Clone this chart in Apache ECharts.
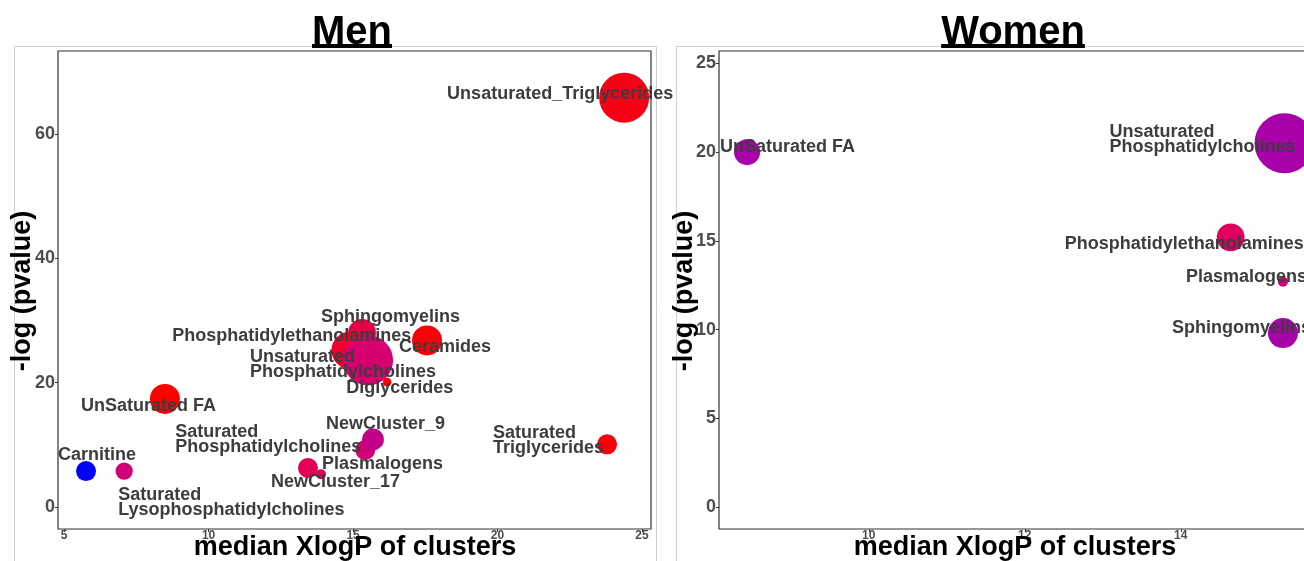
<!DOCTYPE html>
<html>
<head>
<meta charset="utf-8">
<script src="https://cdn.jsdelivr.net/npm/echarts@6/dist/echarts.min.js"></script>
<style>
  html, body { margin: 0; padding: 0; background: #ffffff; }
  #chart { width: 1304px; height: 561px; }
</style>
</head>
<body>
<div id="chart"></div>
<script>
const FONT = '"Liberation Sans", Arial, Helvetica, sans-serif';

// ---- Men: lipid clusters ----
const menClusters = [
  'Unsaturated_Triglycerides', 'Ceramides', 'Sphingomyelins', 'Phosphatidylethanolamines',
  'Unsaturated\nPhosphatidylcholines', 'Diglycerides', 'UnSaturated FA', 'Carnitine',
  'Saturated\nLysophosphatidylcholines', 'NewCluster_17', 'Plasmalogens',
  'Saturated\nPhosphatidylcholines', 'NewCluster_9', 'Saturated\nTriglycerides'
];
const menXlogP   = [24.38, 17.56, 15.31, 14.90, 15.52, 16.18, 8.49, 5.76, 7.08, 13.44, 13.89, 15.42, 15.69, 23.79];
const menNegLogP = [65.8, 26.8, 28.0, 25.2, 23.6, 20.1, 17.4, 5.8, 5.8, 6.3, 5.3, 9.2, 10.9, 10.1];
const menMembers = [100, 36, 31, 56, 100, 3, 36, 16, 12, 16, 4, 16, 19, 16];
const menEffect  = [0.95, 0.98, 0.84, 0.90, 0.745, 1.0, 1.0, 0.0, 0.72, 0.81, 0.80, 0.717, 0.636, 0.98];

// ---- Women: lipid clusters ----
const womenClusters = [
  'UnSaturated FA', 'Unsaturated\nPhosphatidylcholines', 'Phosphatidylethanolamines',
  'Plasmalogens', 'Sphingomyelins'
];
const womenXlogP   = [8.44, 15.33, 14.64, 15.31, 15.31];
const womenNegLogP = [20.0, 20.5, 15.2, 12.7, 9.8];
const womenMembers = [27, 144, 31, 4, 36];
const womenEffect  = [0.5, 0.5, 0.78, 0.72, 0.5];

// ---- tick values ----
const menXTicks = [5, 10, 15, 20, 25];
const menYTicks = [0, 20, 40, 60];
const womenXTicks = [10, 12, 14];
const womenYTicks = [0, 5, 10, 15, 20, 25];

// label placement: left edge / vertical middle of each label, in px from the point centre
const menLabelNudge = {
  'Unsaturated_Triglycerides': [-177, -4],
  'Ceramides': [-28, 7],
  'Sphingomyelins': [-41, -16],
  'Phosphatidylethanolamines': [-178, -14],
  'Unsaturated\nPhosphatidylcholines': [-118, 4],
  'Diglycerides': [-41, 6],
  'UnSaturated FA': [-84, 7],
  'Carnitine': [-28, -16],
  'Saturated\nLysophosphatidylcholines': [-6, 31],
  'NewCluster_17': [-37, 14],
  'Plasmalogens': [1, -10],
  'Saturated\nPhosphatidylcholines': [-190, -10],
  'NewCluster_9': [-47, -15],
  'Saturated\nTriglycerides': [-114, -4]
};
const womenLabelNudge = {
  'UnSaturated FA': [-27, -5],
  'Unsaturated\nPhosphatidylcholines': [-175, -4],
  'Phosphatidylethanolamines': [-166, 7],
  'Plasmalogens': [-97, -5],
  'Sphingomyelins': [-111, -5]
};

// bubble diameter grows with the square root of the cluster size
const diameter = n => 5 * Math.sqrt(n);

function buildPoints(names, xs, ys, members, effect, nudge) {
  return names.map((name, i) => {
    const d = diameter(members[i]);
    const off = nudge[name] || [0, 0];
    return {
      name: name,
      value: [xs[i], ys[i], members[i], effect[i]],
      label: { position: [d / 2 + off[0], d / 2 + off[1]] }
    };
  });
}

const labelStyle = {
  show: true,
  formatter: p => p.name,
  align: 'left',
  verticalAlign: 'middle',
  fontFamily: FONT,
  fontWeight: 'bold',
  fontSize: 18,
  lineHeight: 15,
  color: '#3d3d3d'
};

function xAxisFor(gridIndex, min, max, ticks) {
  return {
    type: 'value', gridIndex, min, max,
    axisLine: { show: false, onZero: false },
    splitLine: { show: false },
    axisTick: { show: true, length: 3, customValues: ticks, lineStyle: { color: '#333', width: 1 } },
    axisLabel: {
      customValues: ticks, margin: 1,
      fontFamily: FONT, fontWeight: 'bold', fontSize: 12, color: '#4d4d4d'
    }
  };
}
function yAxisFor(gridIndex, min, max, ticks) {
  return {
    type: 'value', gridIndex, min, max,
    axisLine: { show: false, onZero: false },
    splitLine: { show: false },
    axisTick: { show: true, length: 3, customValues: ticks, lineStyle: { color: '#333', width: 1 } },
    axisLabel: {
      customValues: ticks, margin: 3,
      fontFamily: FONT, fontWeight: 'bold', fontSize: 18, color: '#4d4d4d'
    }
  };
}

const measure = (() => {
  const ctx = document.createElement('canvas').getContext('2d');
  return (text, font) => { ctx.font = font; return ctx.measureText(text).width; };
})();
const titleFont = 'bold 40px ' + FONT;

function panelTitle(text, cx) {
  const w = measure(text, titleFont);
  return [
    {
      type: 'text', x: cx, y: 33, z: 10,
      style: { text, fill: '#000', font: titleFont, align: 'center', verticalAlign: 'middle' }
    },
    { type: 'rect', z: 10, shape: { x: cx - w / 2, y: 44, width: w, height: 4 }, style: { fill: '#000' } }
  ];
}
function axisTitles(xCx, yCx) {
  return [
    {
      type: 'text', x: xCx, y: 548, z: 10,
      style: { text: 'median XlogP of clusters', fill: '#000', font: 'bold 27px ' + FONT, align: 'center', verticalAlign: 'middle' }
    },
    {
      type: 'text', x: yCx, y: 291, z: 10, rotation: Math.PI / 2,
      style: { text: '-log (pvalue)', fill: '#000', font: 'bold 27px ' + FONT, align: 'center', verticalAlign: 'middle' }
    }
  ];
}

const chart = echarts.init(document.getElementById('chart'), null, { renderer: 'canvas' });

chart.setOption({
  backgroundColor: '#ffffff',
  animation: false,
  grid: [
    { left: 58, top: 51, width: 593, height: 478, show: true, borderColor: '#333', borderWidth: 1.2, backgroundColor: 'transparent' },
    // the Women panel runs past the right edge of the page; its frame is drawn as a graphic
    { left: 719, top: 51, width: 585, height: 478, show: false }
  ],
  xAxis: [
    xAxisFor(0, 4.79, 25.31, menXTicks),
    xAxisFor(1, 8.08, 15.58, womenXTicks)
  ],
  yAxis: [
    yAxisFor(0, -3.5, 73.3, menYTicks),
    yAxisFor(1, -1.24, 25.7, womenYTicks)
  ],
  visualMap: {
    type: 'continuous', show: false, dimension: 3, min: 0, max: 1, seriesIndex: [0, 1],
    inRange: { color: ['#0000FF', '#5500D5', '#AA00AA', '#D8006E', '#FF0000'] }
  },
  series: [
    {
      type: 'scatter', xAxisIndex: 0, yAxisIndex: 0, clip: false,
      symbolSize: v => diameter(v[2]),
      itemStyle: { opacity: 1 },
      emphasis: { disabled: true },
      label: labelStyle,
      data: buildPoints(menClusters, menXlogP, menNegLogP, menMembers, menEffect, menLabelNudge)
    },
    {
      type: 'scatter', xAxisIndex: 1, yAxisIndex: 1, clip: false,
      symbolSize: v => diameter(v[2]),
      itemStyle: { opacity: 1 },
      emphasis: { disabled: true },
      label: labelStyle,
      data: buildPoints(womenClusters, womenXlogP, womenNegLogP, womenMembers, womenEffect, womenLabelNudge)
    }
  ],
  graphic: [
    { type: 'rect', z: -1, shape: { x: 14.5, y: 46.5, width: 642, height: 540 }, style: { fill: 'none', stroke: '#cfcfcf', lineWidth: 1 } },
    { type: 'rect', z: -1, shape: { x: 676.5, y: 46.5, width: 700, height: 540 }, style: { fill: 'none', stroke: '#cfcfcf', lineWidth: 1 } },
    { type: 'rect', z: -1, shape: { x: 719, y: 51, width: 640, height: 478 }, style: { fill: 'none', stroke: '#333', lineWidth: 1.2 } },
    ...panelTitle('Men', 352),
    ...panelTitle('Women', 1013),
    ...axisTitles(355, 23),
    ...axisTitles(1015, 685)
  ]
});
</script>
</body>
</html>
